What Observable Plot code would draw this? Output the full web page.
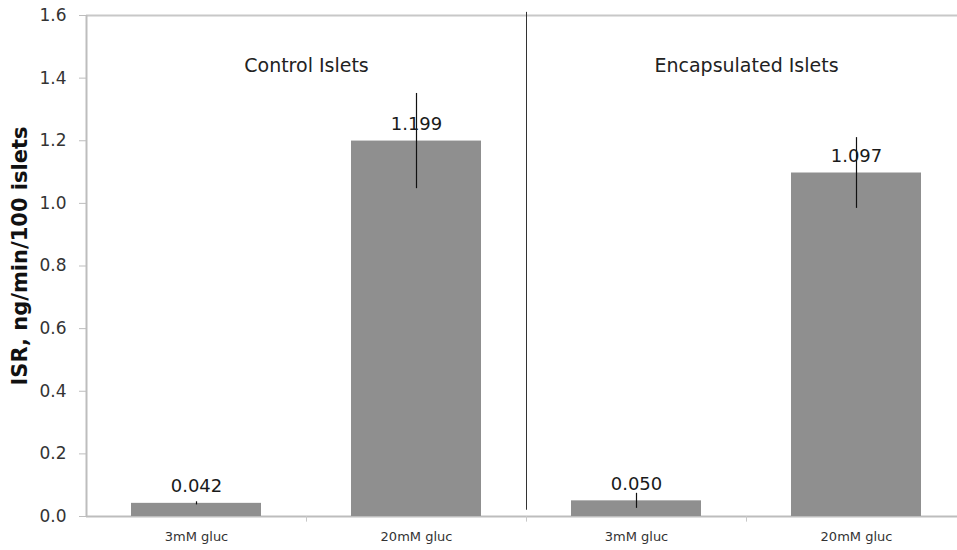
<!DOCTYPE html>
<html>
<head>
<meta charset="utf-8">
<script src="https://cdn.jsdelivr.net/npm/d3@7"></script>
<script src="https://cdn.jsdelivr.net/npm/@observablehq/plot@0.6"></script>
<style>
  html, body { margin: 0; padding: 0; background: #fff; }
  #chart svg { display: block; font-family: "DejaVu Sans", Verdana, sans-serif; }
</style>
</head>
<body>
<div id="chart"></div>
<script>
// ---- data ----
const ids = ["C-3mM", "C-20mM", "E-3mM", "E-20mM"];
const categories = ["3mM gluc", "20mM gluc", "3mM gluc", "20mM gluc"];
const values = [0.042, 1.199, 0.050, 1.097];
const errors = [0.005, 0.152, 0.024, 0.113];
const groupLabels = ["Control Islets", "Encapsulated Islets"];
const groupFirstIds = ["C-3mM", "E-3mM"];
const yTicks = [0, 0.2, 0.4, 0.6, 0.8, 1.0, 1.2, 1.4, 1.6];
const yLabel = "ISR, ng/min/100 islets";

const data = ids.map((id, i) => ({id, label: categories[i], value: values[i], err: errors[i]}));
const labelOf = Object.fromEntries(ids.map((id, i) => [id, categories[i]]));

const step = 220; // band step in px
const chart = Plot.plot({
  width: 957,
  height: 550,
  marginTop: 15,
  marginBottom: 34,
  marginLeft: 86,
  marginRight: 0,
  style: {fontFamily: "DejaVu Sans, Verdana, sans-serif", color: "#222"},
  x: {type: "band", domain: ids, range: [86, 966], paddingInner: 0.41, paddingOuter: 0.205},
  y: {domain: [0, 1.6], range: [516, 15]},
  marks: [
    // top line and baseline
    Plot.ruleY([1.6], {stroke: "#c8c8c8", strokeWidth: 2}),
    Plot.ruleY([0], {stroke: "#bdbdbd", strokeWidth: 2}),
    // bars
    Plot.barY(data, {x: "id", y: "value", fill: "#8f8f8f"}),
    // error bars
    Plot.ruleX(data, {x: "id", y1: d => d.value - d.err, y2: d => d.value + d.err, stroke: "#111", strokeWidth: 1.2}),
    // value labels
    Plot.text(data, {x: "id", y: "value", text: d => d.value.toFixed(3), dy: -17, fontSize: 18, fill: "#1a1a1a"}),
    // divider between groups
    Plot.ruleX([ids[2]], {dx: -step / 2, y1: 0.02, y2: 1.61, stroke: "#333", strokeWidth: 1}),
    // category boundary ticks
    Plot.ruleX(ids.slice(1), {dx: -step / 2, y1: 0, y2: -0.018, stroke: "#c8c8c8", strokeWidth: 1}),
    // group labels
    Plot.text(groupLabels, {x: (d, i) => groupFirstIds[i], y: 1.44, dx: step / 2, text: d => d, fontSize: 19, fill: "#222"}),
    // y axis
    Plot.axisY({ticks: yTicks, tickFormat: d => d.toFixed(1), tickSize: 7, tickPadding: 13, fontSize: 17,
                stroke: "#bdbdbd", fill: "#333", label: null}),
    Plot.ruleX([ids[0]], {dx: -step / 2, y1: 0, y2: 1.6, stroke: "#bdbdbd", strokeWidth: 2}),
    // x axis labels
    Plot.axisX({tickSize: 0, tickPadding: 15, fontSize: 13, fill: "#333", tickFormat: d => labelOf[d], label: null}),
    // y label
    Plot.text([yLabel], {frameAnchor: "left", textAnchor: "middle", rotate: -90, dx: -66, dy: -10, fontSize: 21, fontWeight: "bold", fill: "#111"})
  ]
});
document.getElementById("chart").appendChild(chart);
</script>
</body>
</html>
